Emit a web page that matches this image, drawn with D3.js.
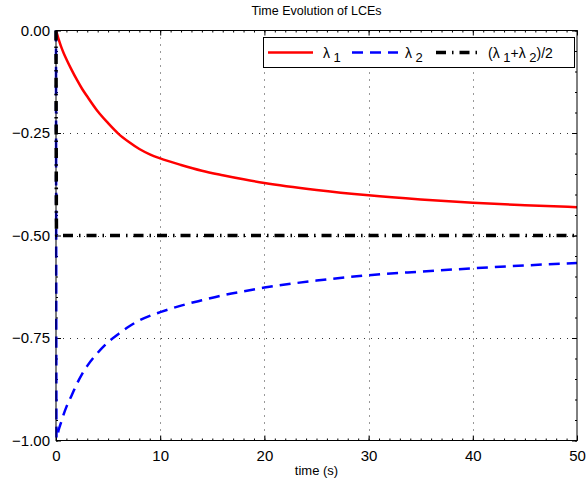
<!DOCTYPE html>
<html><head><meta charset="utf-8">
<script src="https://cdn.jsdelivr.net/npm/d3@7/dist/d3.min.js"></script>
<style>body{margin:0;background:#fff}svg{display:block;font-family:"Liberation Sans",Arial,Helvetica,sans-serif}</style>
</head><body><svg id="c" width="586" height="486"></svg>
<script>
// Data
const time    = [0, 0.05, 0.25, 0.5, 0.75, 1, 1.5, 2, 2.5, 3, 4, 5, 6, 7, 8, 9, 10, 12, 14, 16, 18, 20, 25, 30, 35, 40, 45, 50];
const lambda1 = [0, -0.004, -0.021, -0.040, -0.056, -0.070, -0.096, -0.120, -0.142, -0.161, -0.197, -0.226, -0.252, -0.272, -0.289, -0.302, -0.312, -0.328, -0.342, -0.353, -0.363, -0.372, -0.389, -0.402, -0.412, -0.420, -0.426, -0.431];
const lambda2 = [0, -0.995, -0.975, -0.955, -0.935, -0.918, -0.890, -0.862, -0.838, -0.818, -0.786, -0.760, -0.740, -0.722, -0.707, -0.696, -0.687, -0.671, -0.658, -0.646, -0.636, -0.627, -0.610, -0.597, -0.588, -0.580, -0.573, -0.567];
const meanLam = [0, -0.5, -0.5, -0.5, -0.5, -0.5, -0.5, -0.5, -0.5, -0.5, -0.5, -0.5, -0.5, -0.5, -0.5, -0.5, -0.5, -0.5, -0.5, -0.5, -0.5, -0.5, -0.5, -0.5, -0.5, -0.5, -0.5, -0.5];
const xTicks = [0, 10, 20, 30, 40, 50];
const yTicks = [0, -0.25, -0.5, -0.75, -1];
const titleText = "Time Evolution of LCEs";
const xLabel = "time (s)";

const svg = d3.select("#c");
const L = 56, R = 577, T = 30.5, B = 440.5;
const x = d3.scaleLinear().domain([0, 50]).range([L, R]);
const y = d3.scaleLinear().domain([-1, 0]).range([B, T]);

// grid
const grid = svg.append("g").attr("stroke", "#333").attr("stroke-width", 1).attr("stroke-dasharray", "1,6");
xTicks.slice(1, -1).forEach(v => grid.append("line").attr("x1", Math.round(x(v)) + 0.5).attr("x2", Math.round(x(v)) + 0.5).attr("y1", T).attr("y2", B));
yTicks.slice(1, -1).forEach(v => grid.append("line").attr("y1", Math.round(y(v)) + 0.5).attr("y2", Math.round(y(v)) + 0.5).attr("x1", L).attr("x2", R));

// axes with inward ticks
const fmt = v => (v < 0 ? "\u2212" : "") + Math.abs(v).toFixed(2);
const xAxB = d3.axisBottom(x).tickValues(xTicks).tickSizeInner(-5).tickSizeOuter(0).tickPadding(10).tickFormat(d3.format("d"));
const xAxT = d3.axisTop(x).tickValues(xTicks).tickSizeInner(-5).tickSizeOuter(0).tickFormat("");
const yAxL = d3.axisLeft(y).tickValues(yTicks).tickSizeInner(-5).tickSizeOuter(0).tickPadding(6).tickFormat(fmt);
const yAxR = d3.axisRight(y).tickValues(yTicks).tickSizeInner(-5).tickSizeOuter(0).tickFormat("");
const minorX = d3.range(0, 51, 1), minorY = d3.range(-1, 0.001, 0.05);
function style(g) {
  g.selectAll(".domain").remove();
  g.selectAll("line").attr("stroke", "#000");
  g.selectAll("text").attr("font-size", 15).attr("fill", "#000").attr("font-family", '"Liberation Sans",Arial,sans-serif');
}
svg.append("g").attr("transform", `translate(0,${B})`).call(xAxB).call(style);
svg.append("g").attr("transform", `translate(0,${T})`).call(xAxT).call(style);
svg.append("g").attr("transform", `translate(${L},0)`).call(yAxL).call(style);
svg.append("g").attr("transform", `translate(${R},0)`).call(yAxR).call(style);
svg.append("g").attr("transform", `translate(0,${B})`).call(d3.axisBottom(x).tickValues(minorX).tickSizeInner(-2).tickSizeOuter(0).tickFormat("")).call(style);
svg.append("g").attr("transform", `translate(0,${T})`).call(d3.axisTop(x).tickValues(minorX).tickSizeInner(-2).tickSizeOuter(0).tickFormat("")).call(style);
svg.append("g").attr("transform", `translate(${L},0)`).call(d3.axisLeft(y).tickValues(minorY).tickSizeInner(-2).tickSizeOuter(0).tickFormat("")).call(style);
svg.append("g").attr("transform", `translate(${R},0)`).call(d3.axisRight(y).tickValues(minorY).tickSizeInner(-2).tickSizeOuter(0).tickFormat("")).call(style);

// lines
const plots = svg.append("g");
const series = [
  {vals: lambda1, color: "#ff0000", w: 2.5, dash: null},
  {vals: lambda2, color: "#0000ff", w: 2.5, dash: "11,7"},
  {vals: meanLam, color: "#000000", w: 3.5, dash: "10,6,1.5,6"}
];
const line = d3.line().x(d => x(d[0])).y(d => y(d[1])).curve(d3.curveMonotoneX);
series.forEach(s => {
  plots.append("path").datum(time.map((t, i) => [t, s.vals[i]]))
    .attr("d", line)
    .attr("fill", "none").attr("stroke", s.color).attr("stroke-width", s.w)
    .attr("stroke-dasharray", s.dash).attr("stroke-linejoin", "round");
});

// box
svg.append("rect").attr("x", L).attr("y", T).attr("width", R - L).attr("height", B - T).attr("fill", "none").attr("stroke", "#000").attr("stroke-width", 1);

// title & label
svg.append("text").attr("x", (L + R) / 2).attr("y", 15).attr("text-anchor", "middle").attr("font-size", 12.5).text(titleText);
svg.append("text").attr("x", (L + R) / 2).attr("y", 475).attr("text-anchor", "middle").attr("font-size", 13).text(xLabel);

// legend
const lg = svg.append("g");
lg.append("rect").attr("x", 263.5).attr("y", 37.5).attr("width", 311).attr("height", 30).attr("fill", "#fff").attr("stroke", "#000").attr("stroke-width", 1);
const ly = 52.5;
const items = [
  {s: series[0], x0: 268, x1: 313, tx: 323, parts: [["\u03bb", 0], [" 1", 1]]},
  {s: series[1], x0: 352, x1: 398, tx: 405, parts: [["\u03bb", 0], [" 2", 1]]},
  {s: series[2], x0: 436, x1: 482, tx: 488, parts: [["(\u03bb", 0], [" 1", 1], ["+\u03bb", 2], [" 2", 1], [")/2", 2]]}
];
items.forEach(it => {
  lg.append("line").attr("x1", it.x0).attr("x2", it.x1).attr("y1", ly).attr("y2", ly)
    .attr("stroke", it.s.color).attr("stroke-width", it.s.w).attr("stroke-dasharray", it.s.dash);
  const t = lg.append("text").attr("x", it.tx).attr("y", ly + 5).attr("font-size", 14);
  it.parts.forEach(([str, k]) => {
    const sp = t.append("tspan").text(str);
    if (k === 1) sp.attr("dy", 4).attr("font-size", 13);
    if (k === 2) sp.attr("dy", -4);
  });
});
</script></body></html>
